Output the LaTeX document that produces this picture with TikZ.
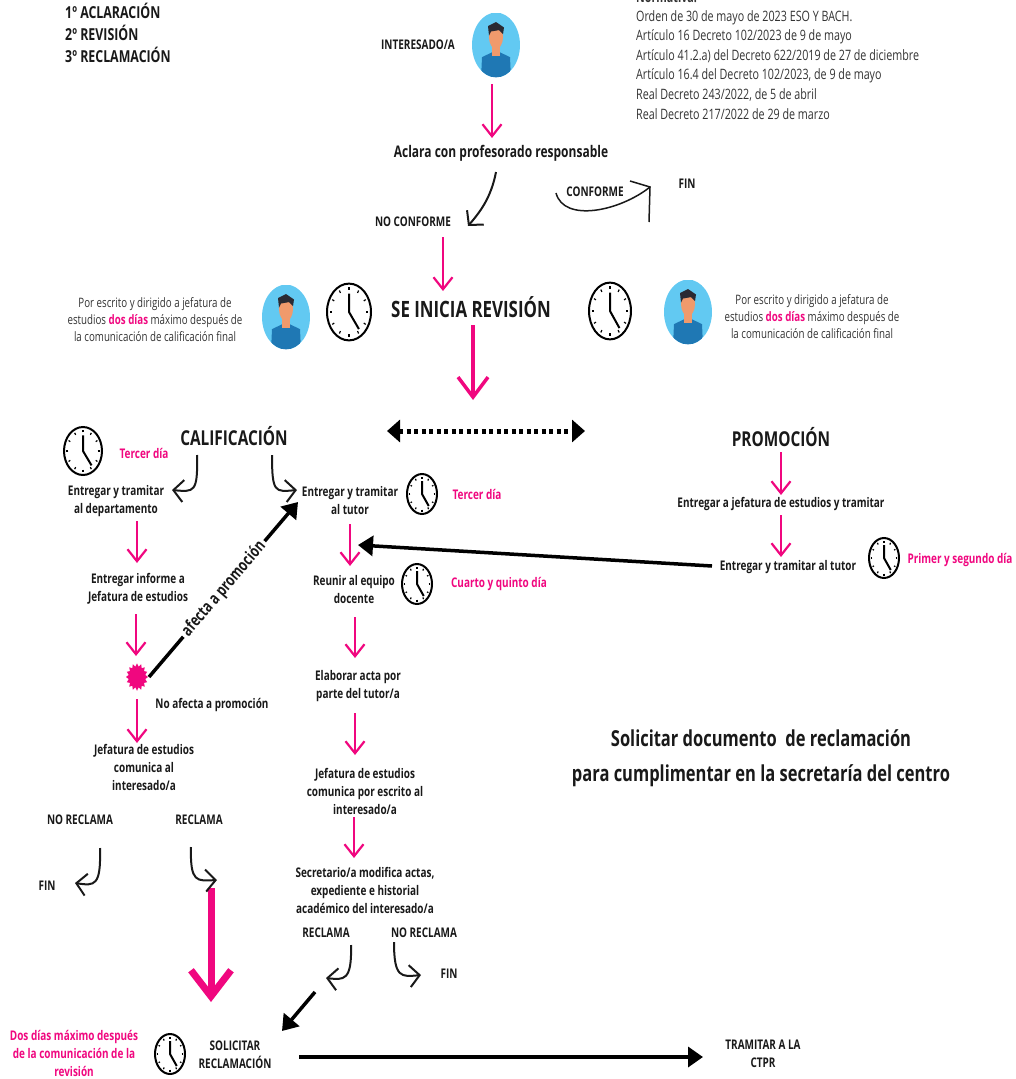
\documentclass[tikz,border=0pt]{standalone}
\usepackage{fontspec}
\setmainfont{Open Sans}[FakeStretch=0.75]
\usepackage{tikz}
\usetikzlibrary{arrows.meta, shapes.geometric}
\definecolor{rosa}{HTML}{F0077F}
\definecolor{celeste}{HTML}{62C9F2}
\definecolor{azul}{HTML}{1F78B4}
\definecolor{piel}{HTML}{F09A6C}
\definecolor{pelo}{HTML}{2A2A33}
\tikzset{
    paso/.style={font=\fontsize{13.3}{18}\selectfont\bfseries, align=center, inner sep=0pt, text=black!90},
    titulo/.style={font=\fontsize{20.5}{26}\selectfont\bfseries, inner sep=0pt, text=black!90},
    aviso/.style={font=\fontsize{13.3}{18}\selectfont\bfseries, align=center, inner sep=0pt, text=rosa},
    nota/.style={font=\fontsize{13}{17}\selectfont, align=center, inner sep=0pt, text=black!80},
    norma/.style={font=\fontsize{14.3}{19}\selectfont, anchor=west, inner sep=0pt, text height=10pt, text depth=3pt, text=black!80},
    lista/.style={font=\fontsize{16.5}{20}\selectfont\bfseries, anchor=west, inner sep=0pt, text=black!90},
    frosa/.style={draw=rosa, line width=2.2pt, -{Straight Barb[length=12pt, width=19pt]}},
    fcurva/.style={draw=black!90, line width=2pt, -{Straight Barb[length=10pt, width=22pt]}},
    fnegra/.style={draw=black, line width=3.5pt, -{Triangle[length=15pt, width=20pt]}},
    reloj/.pic={
        \draw[line width=2pt, fill=white] (0,0) circle (20);
        \foreach \a in {0, 30, ..., 330}
            \draw[line width=1.2pt] (\a:15.5) -- (\a:17.5);
        \draw[line width=2pt] (0,-13) -- (0,0) -- (9,12);
    },
    persona/.pic={
        \begin{scope}
            \clip (0,0) circle (24);
            \fill[celeste] (-24,-24) rectangle (24,24);
            \fill[azul] (-15,25) -- (-14,9) -- (0,4) -- (14,9) -- (15,25) -- cycle;
            \fill[piel] (-4,0) rectangle (4,8);
            \fill[piel] (0,-6) ellipse (7 and 9);
            \fill[pelo] (-7,-7) -- (-8,-14) -- (0,-17) -- (8,-13) -- (7,-8) -- (3,-11) -- (-5,-10) -- cycle;
        \end{scope}
    }
}
\begin{document}
\begin{tikzpicture}[x=1pt, y=-1pt]
    \useasboundingbox (0,0) rectangle (1015,1079);
    \clip (0,0) rectangle (1015,1079);

    % Fases y normativa
    \node[lista] (fase1) at (65,11) {1º ACLARACIÓN};
    \node[lista] (fase2) at (65,33) {2º REVISIÓN};
    \node[lista] (fase3) at (65,55) {3º RECLAMACIÓN};
    \node[norma, font=\fontsize{14.3}{19}\selectfont\bfseries] (norma0) at (636,-1) {Normativa:};
    \node[norma] (norma1) at (636,18) {Orden de 30 de mayo de 2023 ESO Y BACH.};
    \node[norma] (norma2) at (636,37) {Artículo 16 Decreto 102/2023 de 9 de mayo};
    \node[norma] (norma3) at (636,57) {Artículo 41.2.a) del Decreto 622/2019 de 27 de diciembre};
    \node[norma] (norma4) at (636,76) {Artículo 16.4 del Decreto 102/2023, de 9 de mayo};
    \node[norma] (norma5) at (636,96) {Real Decreto 243/2022, de 5 de abril};
    \node[norma] (norma6) at (636,116) {Real Decreto 217/2022 de 29 de marzo};

    % Personas y relojes
    \coordinate (personaA) at (496,45);
    \pic[xscale=1, yscale=1.35] at (personaA) {persona};
    \pic[xscale=1, yscale=1.35] at (286,317) {persona};
    \pic[xscale=1, yscale=1.35] at (688,312) {persona};
    \pic[xscale=1.1, yscale=1.42] at (349,312) {reloj};
    \pic[xscale=1.05, yscale=1.42] at (610,311) {reloj};
    \pic[xscale=.95, yscale=1.2] at (83,451) {reloj};
    \pic[xscale=.75, yscale=1] at (422,494) {reloj};
    \pic[xscale=.75, yscale=1] at (417,584) {reloj};
    \pic[xscale=.75, yscale=1] at (884,558) {reloj};
    \pic[xscale=.75, yscale=1] at (170,1054) {reloj};

    % Aclaracion
    \node[paso] (interesado) at (418,45) {INTERESADO/A};
    \node[paso, font=\fontsize{16}{18}\selectfont\bfseries] (aclara) at (501,153) {Aclara con profesorado responsable};
    \node[paso] (noconforme) at (413,222) {NO CONFORME};
    \node[paso] (conforme) at (595,192) {CONFORME};
    \node[paso] (finC) at (687,184) {FIN};

    % Revision
    \node[titulo, font=\fontsize{22.5}{26}\selectfont\bfseries] (inicia) at (471,307) {SE INICIA REVISIÓN};
    \node[nota] (plazoA) at (155,320) {Por escrito y dirigido a jefatura de\\estudios {\color{rosa}\bfseries dos días} máximo después de\\la comunicación de calificación final};
    \node[nota] (plazoB) at (812,317) {Por escrito y dirigido a jefatura de\\estudios {\color{rosa}\bfseries dos días} máximo después de\\la comunicación de calificación final};
    \node[titulo] (calificacion) at (234,436) {CALIFICACIÓN};
    \node[titulo] (promocion) at (781,437) {PROMOCIÓN};

    % Columna de calificacion
    \node[aviso] (diaA) at (144,453) {Tercer día};
    \node[paso] (departamento) at (116,501) {Entregar y tramitar\\al departamento};
    \node[paso] (informe) at (138,589) {Entregar informe a\\Jefatura de estudios};
    \node[star, star points=16, star point ratio=1.3, fill=rosa, minimum size=22pt, inner sep=0pt, yscale=1.25, transform shape] (sello) at (137,677) {};
    \node[paso] (noafecta) at (212,705) {No afecta a promoción};
    \node[paso] (jefeA) at (144,767) {Jefatura de estudios\\comunica al\\interesado/a};
    \node[paso] (noreclamaA) at (80,820) {NO RECLAMA};
    \node[paso] (reclamaA) at (199,820) {RECLAMA};
    \node[paso] (finA) at (47,886) {FIN};

    % Columna del tutor
    \node[paso] (tutorA) at (350,501) {Entregar y tramitar\\al tutor};
    \node[aviso] (diaB) at (477,494) {Tercer día};
    \node[paso] (reunir) at (354,590) {Reunir al equipo\\docente};
    \node[aviso] (diaC) at (499,584) {Cuarto y quinto día};
    \node[paso] (elaborar) at (358,686) {Elaborar acta por\\parte del tutor/a};
    \node[paso] (jefeB) at (365,791) {Jefatura de estudios\\comunica por escrito al\\interesado/a};
    \node[paso] (secretario) at (365,890) {Secretario/a modifica actas,\\expediente e historial\\académico del interesado/a};
    \node[paso] (reclamaB) at (326,933) {RECLAMA};
    \node[paso] (noreclamaB) at (424,933) {NO RECLAMA};
    \node[paso] (finB) at (449,974) {FIN};

    % Columna de promocion
    \node[paso] (jefatura) at (781,504) {Entregar a jefatura de estudios y tramitar};
    \node[paso] (tutorB) at (788,567) {Entregar y tramitar al tutor};
    \node[aviso] (diaD) at (960,560) {Primer y segundo día};
    \node[titulo, font=\fontsize{22}{35}\selectfont\bfseries, align=center] (solicitud) at (761,758) {Solicitar documento\ \ de reclamación\\para cumplimentar en la secretaría del centro};

    % Reclamacion
    \node[aviso] (plazoC) at (74,1053) {Dos días máximo después\\de la comunicación de la\\revisión};
    \node[paso] (solicitar) at (235,1055) {SOLICITAR\\RECLAMACIÓN};
    \node[paso] (tramitar) at (763,1054) {TRAMITAR A LA\\CTPR};

    % Puntos libres
    \coordinate (finInicia) at (473,400);
    \coordinate (cruce) at (358,545);
    \coordinate (curvaA) at (217,880);
    \coordinate (curvaB) at (326,978);

    % Flechas rosas
    \draw[frosa] ([shift={(-4,39)}]personaA) -- ([shift={(-9,-15)}]aclara.center);
    \draw[frosa] ([shift={(30,15)}]noconforme.center) -- ([shift={(-28,-16)}]inicia.center);
    \draw[frosa, line width=3.5pt, -{Straight Barb[length=20pt, width=30pt]}] ([shift={(2,18)}]inicia.center) -- (finInicia);
    \draw[frosa] ([shift={(21,20)}]departamento.center) -- ([shift={(-1,-26)}]informe.center);
    \draw[frosa] ([shift={(-2,25)}]informe.center) -- ([shift={(-1,-21)}]sello.center);
    \draw[frosa] ([shift={(0,22)}]sello.center) -- ([shift={(-7,-24)}]jefeA.center);
    \draw[frosa] ([shift={(0,23)}]tutorA.center) -- ([shift={(-4,-24)}]reunir.center);
    \draw[frosa] ([shift={(1,27)}]reunir.center) -- ([shift={(-3,-28)}]elaborar.center);
    \draw[frosa] ([shift={(-3,27)}]elaborar.center) -- ([shift={(-10,-36)}]jefeB.center);
    \draw[frosa] ([shift={(-11,26)}]jefeB.center) -- ([shift={(-11,-32)}]secretario.center);
    \draw[frosa] ([shift={(0,15)}]promocion.center) -- ([shift={(0,-9)}]jefatura.center);
    \draw[frosa] ([shift={(0,11)}]jefatura.center) -- ([shift={(-7,-10)}]tutorB.center);
    \draw[frosa, line width=7pt, -{Straight Barb[length=26pt, width=40pt]}] ([shift={(-6,8)}]curvaA) -- ([shift={(-24,-53)}]solicitar.center);

    % Flechas curvas
    \draw[fcurva] ([shift={(-5,19)}]aclara.center) .. controls +(-5,26) and +(12,-14) .. ([shift={(55,4)}]noconforme.center);
    \draw[fcurva] ([shift={(-37,19)}]calificacion.center) .. controls +(1,38) and +(22,2) .. ([shift={(56,-11)}]departamento.center);
    \draw[fcurva] ([shift={(38,19)}]calificacion.center) .. controls +(0,38) and +(-22,2) .. ([shift={(-53,-11)}]tutorA.center);
    \draw[fcurva] ([shift={(20,28)}]noreclamaA.center) .. controls +(1,38) and +(20,3) .. ([shift={(28,-3)}]finA.center);
    \draw[fcurva] ([shift={(-8,27)}]reclamaA.center) .. controls +(-1,36) and +(-20,1) .. (curvaA);
    \draw[fcurva] ([shift={(25,12)}]reclamaB.center) .. controls +(1,36) and +(18,2) .. (curvaB);
    \draw[fcurva] ([shift={(-30,9)}]noreclamaB.center) .. controls +(0,36) and +(-20,2) .. ([shift={(-28,1)}]finB.center);

    % Conforme
    \draw[draw=black!90, line width=1.5pt] ([shift={(-39,1)}]conforme.center) .. controls +(8,30) and +(-30,24) .. ([shift={(-37,3)}]finC.center);
    \draw[draw=black!90, line width=1.5pt] ([shift={(-57,-3)}]finC.center) -- ([shift={(-37,3)}]finC.center) -- ([shift={(-38,38)}]finC.center);

    % Flechas negras
    \draw[fnegra, {Triangle[length=13pt, width=22pt]}-{Triangle[length=13pt, width=22pt]}, dash pattern=on 4pt off 3.5pt, line width=5pt] ([shift={(153,-5)}]calificacion.center) -- ([shift={(-196,-6)}]promocion.center);
    \draw[fnegra] ([shift={(12,0)}]sello.center) -- ([shift={(-52,1)}]tutorA.center);
    \node[paso, fill=white, inner sep=3pt, rotate=49.5, font=\fontsize{16.5}{18}\selectfont\bfseries] (afecta) at (224,589) {afecta a promoción};
    \draw[fnegra] ([shift={(-76,-1)}]tutorB.center) -- (cruce);
    \draw[fnegra] ([shift={(-11,14)}]curvaB) -- ([shift={(47,-24)}]solicitar.center);
    \draw[fnegra] ([shift={(64,2)}]solicitar.center) -- ([shift={(-60,3)}]tramitar.center);
\end{tikzpicture}
\end{document}
